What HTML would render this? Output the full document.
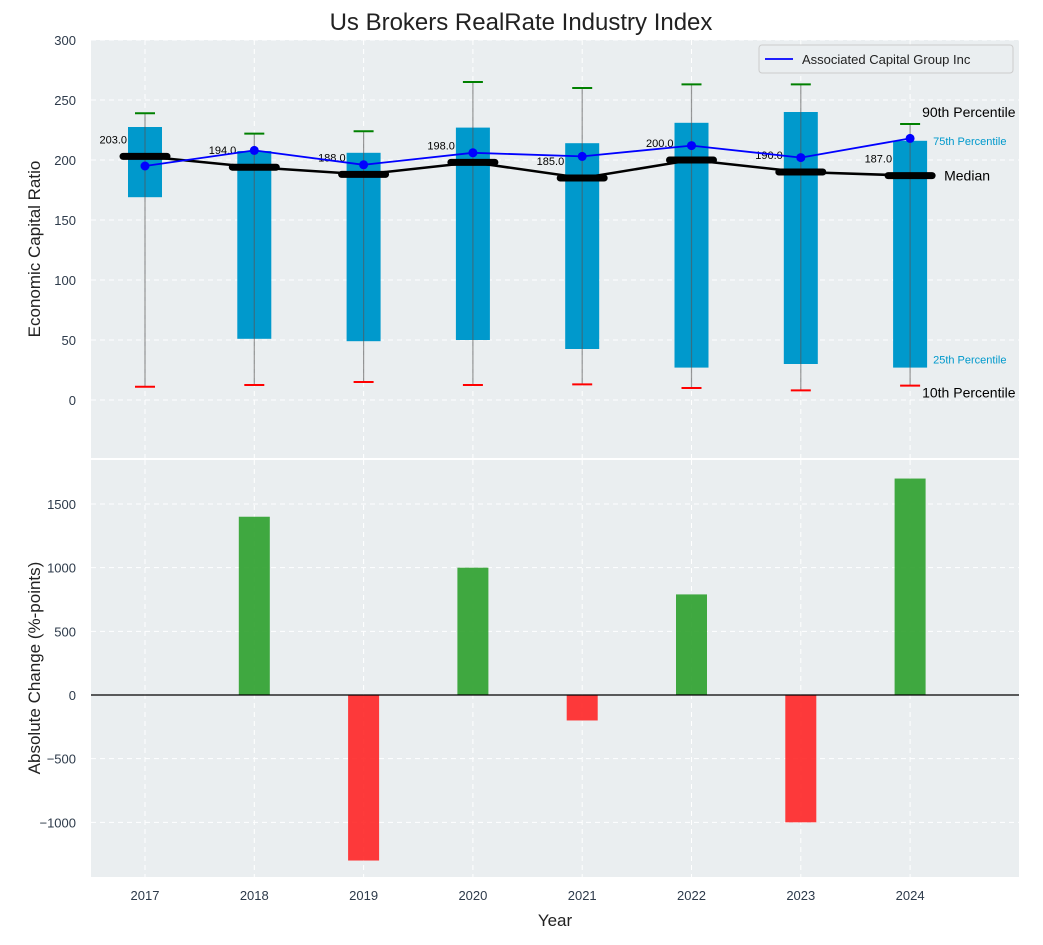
<!DOCTYPE html>
<html><head><meta charset="utf-8"><style>
body{margin:0;background:#fff;font-family:"Liberation Sans","DejaVu Sans",sans-serif}
</style></head><body>
<svg id="c" width="1043" height="940" xmlns="http://www.w3.org/2000/svg" font-family="Liberation Sans, DejaVu Sans, sans-serif"></svg>
<script>
const years=[2017,2018,2019,2020,2021,2022,2023,2024];
const p10=[11,12.5,15,12.5,13,10,8,12];
const p25=[169,51,49,50,42.5,27,30,27];
const medians=[203,194,188,198,185,200,190,187];
const p75=[227.5,207.5,206,227,214,231,240,216];
const p90=[239,222,224,265,260,263,263,230];
const company=[195,208,196,206,203,212,202,218];
const changes=[0,1400,-1300,1000,-200,790,-1000,1700];
const yTicksTop=[0,50,100,150,200,250,300];
const yTicksBot=[-1000,-500,0,500,1000,1500];

const svg=document.getElementById('c');
const NS='http://www.w3.org/2000/svg';
function el(t,a,p){const e=document.createElementNS(NS,t);for(const k in a)e.setAttribute(k,a[k]);(p||svg).appendChild(e);return e;}
function tx(s,a,p){const e=el('text',a,p);e.textContent=s;return e;}
const L=91,R=1019;
const x=v=>145+(v-2017)*109.3;
const T0=40,T1=458,yT=v=>400-v*1.2;
const B0=460,B1=877,yB=v=>695-v*0.12733;

// panels
el('rect',{x:L,y:T0,width:R-L,height:T1-T0,fill:'#eaeef0'});
el('rect',{x:L,y:B0,width:R-L,height:B1-B0,fill:'#eaeef0'});
// grids
years.forEach(y=>{
  el('line',{x1:x(y),x2:x(y),y1:T0,y2:T1,stroke:'#fff','stroke-dasharray':'5,4','stroke-width':1});
  el('line',{x1:x(y),x2:x(y),y1:B0,y2:B1,stroke:'#fff','stroke-dasharray':'5,4','stroke-width':1});
  const t=tx(y,{x:x(y),y:900,'font-size':13,fill:'#2d3a4a','text-anchor':'middle'});
  
});
yTicksTop.forEach(v=>{
  el('line',{x1:L,x2:R,y1:yT(v),y2:yT(v),stroke:'#fff','stroke-dasharray':'5,4'});
  const t=tx(v,{x:76,y:yT(v)+5,'font-size':13,fill:'#2d3a4a','text-anchor':'end'});
  
});
yTicksBot.forEach(v=>{
  el('line',{x1:L,x2:R,y1:yB(v),y2:yB(v),stroke:'#fff','stroke-dasharray':'5,4'});
  const t=tx(v===0?'0':String(v).replace('-','\u2212'),{x:76,y:yB(v)+5,'font-size':13,fill:'#2d3a4a','text-anchor':'end'});
  
});
// boxes
years.forEach((y,i)=>{
  const cx=x(y);
  const b=el('rect',{x:cx-17,y:yT(p75[i]),width:34,height:yT(p25[i])-yT(p75[i]),fill:'#0099cc'});
  
  el('line',{x1:cx,x2:cx,y1:yT(p90[i]),y2:yT(p10[i]),stroke:'#555','stroke-opacity':0.6,'stroke-width':1.2});
  const c1=el('line',{x1:cx-10,x2:cx+10,y1:yT(p90[i]),y2:yT(p90[i]),stroke:'green','stroke-width':2});
  
  const c2=el('line',{x1:cx-10,x2:cx+10,y1:yT(p10[i]),y2:yT(p10[i]),stroke:'red','stroke-width':2});
  
});
// median line
el('polyline',{points:years.map((y,i)=>x(y)+','+yT(medians[i])).join(' '),fill:'none',stroke:'#000','stroke-width':2.5});
years.forEach((y,i)=>{
  const m=el('line',{x1:x(y)-22,x2:x(y)+22,y1:yT(medians[i]),y2:yT(medians[i]),stroke:'#000','stroke-width':7,'stroke-linecap':'round'});
  
  const t=tx(medians[i].toFixed(1),{x:x(y)-18,y:yT(medians[i])-13,'font-size':11,fill:'#000','text-anchor':'end'});
  
});
// company line
el('polyline',{points:years.map((y,i)=>x(y)+','+yT(company[i])).join(' '),fill:'none',stroke:'blue','stroke-width':1.8});
years.forEach((y,i)=>{
  const d=el('circle',{cx:x(y),cy:yT(company[i]),r:4.5,fill:'blue'});
  
});
// right annotations
const ax=x(2024);
[['90th Percentile',ax+12,yT(p90[7])-7,14,'#000'],['75th Percentile',ax+23,yT(p75[7])+4,11,'#0099cc'],['Median',ax+34,yT(medians[7])+5,14,'#000'],['25th Percentile',ax+23,yT(p25[7])-4,11,'#0099cc'],['10th Percentile',ax+12,yT(p10[7])+12,14,'#000']].forEach(a=>{
  const t=tx(a[0],{x:a[1],y:a[2],'font-size':a[3],fill:a[4]});
});
// legend
const lg=el('g',{});
el('rect',{x:759,y:45,width:254,height:28,fill:'#eaeef0',stroke:'#ccc',rx:3},lg);
el('line',{x1:765,x2:793,y1:59,y2:59,stroke:'blue','stroke-width':1.8},lg);
tx('Associated Capital Group Inc',{x:802,y:64,'font-size':13,fill:'#222'},lg);
// bottom bars
years.forEach((y,i)=>{
  const v=changes[i];if(v===0)return;
  const r=el('rect',{x:x(y)-15.5,y:Math.min(yB(v),yB(0)),width:31,height:Math.abs(yB(v)-yB(0)),fill:v>0?'#2ca02c':'#ff2020','fill-opacity':v>0?0.9:0.88});
  
});
el('line',{x1:L,x2:R,y1:yB(0),y2:yB(0),stroke:'#000','stroke-width':1.2});
// titles
let t=tx('Us Brokers RealRate Industry Index',{x:521,y:30,'font-size':24,fill:'#222','text-anchor':'middle'});
t=tx('Economic Capital Ratio',{x:0,y:0,'font-size':17,fill:'#222','text-anchor':'middle',transform:'translate(40,249) rotate(-90)'});
t=tx('Absolute Change (%-points)',{x:0,y:0,'font-size':17,fill:'#222','text-anchor':'middle',transform:'translate(40,668) rotate(-90)'});
t=tx('Year',{x:555,y:926,'font-size':17,fill:'#222','text-anchor':'middle'});
</script>
</body></html>
